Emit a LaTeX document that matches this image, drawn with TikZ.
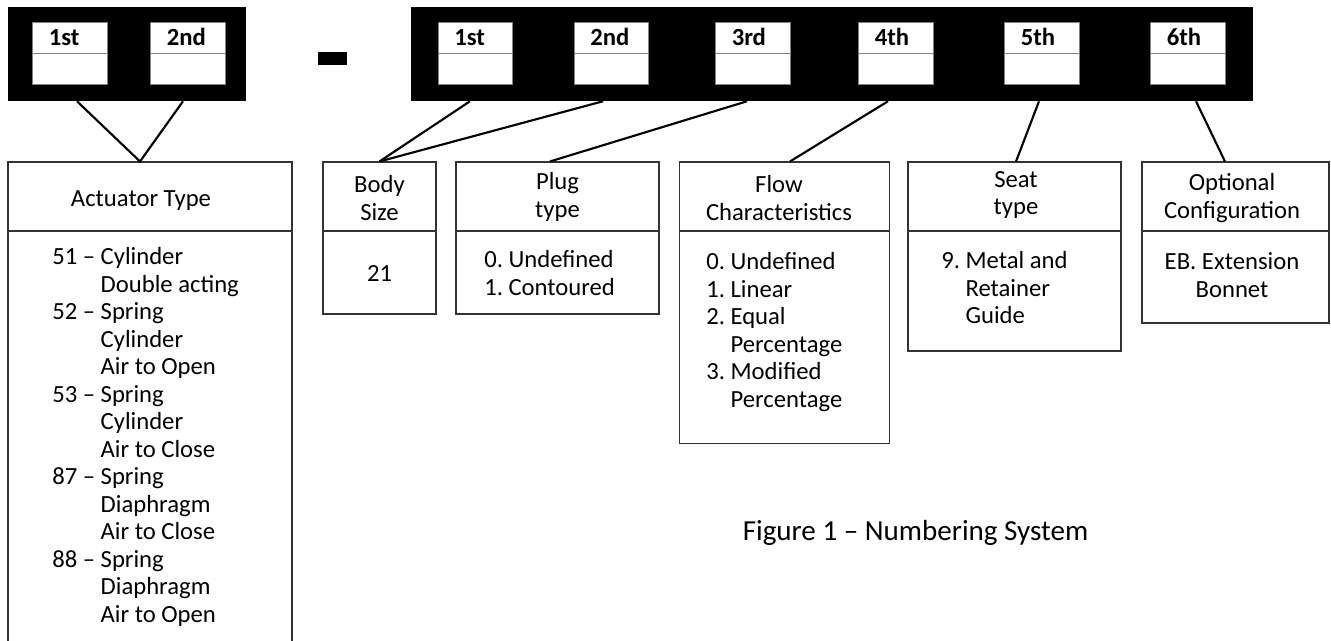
\documentclass[tikz,border=0pt]{standalone}
\usepackage{fontspec}
\setmainfont{Carlito}
\usetikzlibrary{calc}
\newcommand{\pxs}{0.75pt}
\begin{document}
\begin{tikzpicture}[x=0.75pt,y=-0.75pt,
  blk/.style={fill=black,inner sep=0pt},
  slot/.style={draw=black!50,fill=white,inner sep=0pt,minimum width=74.5*\pxs,minimum height=62*\pxs},
  slotlbl/.style={font=\fontsize{18.5}{22}\selectfont\bfseries,inner sep=0pt,anchor=west},
  infobox/.style={draw=black!80,line width=0.8pt,inner sep=0pt},
  boxtext/.style={font=\fontsize{18.5}{20.6}\selectfont,inner sep=0pt},
  link/.style={line width=1.6pt}]
\useasboundingbox (0,0) rectangle (1331,641);
\node[blk,minimum width=238*\pxs,minimum height=94*\pxs] (lblk) at (127,54) {};
\node[blk,minimum width=842*\pxs,minimum height=94*\pxs] (rblk) at (832,54) {};
\node[blk,minimum width=29*\pxs,minimum height=13*\pxs] (dash) at (332.5,59) {};
\foreach \n/\x/\lbl in {l1/70/1st,l2/188/2nd,r1/475.5/1st,r2/611.5/2nd,r3/753/3rd,r4/896/4th,r5/1042/5th,r6/1188/6th}{
  \node[slot] (\n) at (\x,53) {};
  \draw[black!50] (\n.west) -- (\n.east);
  \node[slotlbl] (\n-t) at ($(\n.north west)+(16,15.5)$) {\lbl};
}
\node[infobox,minimum width=284*\pxs,minimum height=498*\pxs] (act) at (150,411) {};
\node[infobox,minimum width=113*\pxs,minimum height=152*\pxs] (body) at (379.5,238) {};
\node[infobox,minimum width=203*\pxs,minimum height=152*\pxs] (plug) at (557.5,238) {};
\node[infobox,minimum width=210*\pxs,minimum height=281.5*\pxs] (flow) at (784.5,302.75) {};
\node[infobox,minimum width=213*\pxs,minimum height=189*\pxs] (seat) at (1014.5,256.5) {};
\node[infobox,minimum width=187*\pxs,minimum height=161*\pxs] (opt) at (1235.5,242.5) {};
\foreach \b in {act,body,plug,flow,seat,opt}
  \draw[infobox] (\b.west |- 0,231) -- (\b.east |- 0,231);
\draw[link] ($(lblk.south -| l1)+(7,0)$) -- ($(act.north)+(-10,0)$) -- ($(lblk.south -| l2)+(-5,0)$);
\foreach \s/\ds/\e/\de in {r1/-5.5/body/0,r2/-8.5/body/0,r3/-6/plug/-7.5,r4/-8/flow/5.5,r5/-3/seat/1.5,r6/8/opt/-10.5}
  \draw[link] ($(rblk.south -| \s)+(\ds,0)$) -- ($(\e.north)+(\de,0)$);
\node[boxtext] (act-h) at (141,201) {Actuator Type};
\node[boxtext,anchor=base west] (act-l) at (52,265) {\begin{tabular}[t]{@{}l@{\ }l@{}}
51 – & Cylinder\\ & Double acting\\ 52 – & Spring\\ & Cylinder\\ & Air to Open\\
53 – & Spring\\ & Cylinder\\ & Air to Close\\ 87 – & Spring\\ & Diaphragm\\ & Air to Close\\
88 – & Spring\\ & Diaphragm\\ & Air to Open
\end{tabular}};
\node[boxtext,align=center] (body-h) at (379.5,198) {Body\\Size};
\node[boxtext] (body-v) at (379.5,273) {21};
\node[boxtext,align=center] (plug-h) at (557.5,197) {Plug\\type};
\node[boxtext,anchor=base west] (plug-l) at (484,268) {\begin{tabular}[t]{@{}l@{\ }l@{}}
0. & Undefined\\ 1. & Contoured
\end{tabular}};
\node[boxtext,align=center] (flow-h) at (779,198) {Flow\\Characteristics};
\node[boxtext,anchor=base west] (flow-l) at (706,270) {\begin{tabular}[t]{@{}l@{\ }l@{}}
0. & Undefined\\ 1. & Linear\\ 2. & Equal\\ & Percentage\\ 3. & Modified\\ & Percentage
\end{tabular}};
\node[boxtext,align=center] (seat-h) at (1016,195) {Seat\\type};
\node[boxtext,anchor=base west] (seat-l) at (941,269) {\begin{tabular}[t]{@{}l@{\ }l@{}}
9. & Metal and\\ & Retainer\\ & Guide
\end{tabular}};
\node[boxtext,align=center] (opt-h) at (1232,198) {Optional\\Configuration};
\node[boxtext,align=center] (opt-v) at (1232,275) {EB. Extension\\Bonnet};
\node[font=\fontsize{21.8}{26}\selectfont,inner sep=0pt] (caption) at (915.5,533) {Figure 1 – Numbering System};
\end{tikzpicture}
\end{document}
